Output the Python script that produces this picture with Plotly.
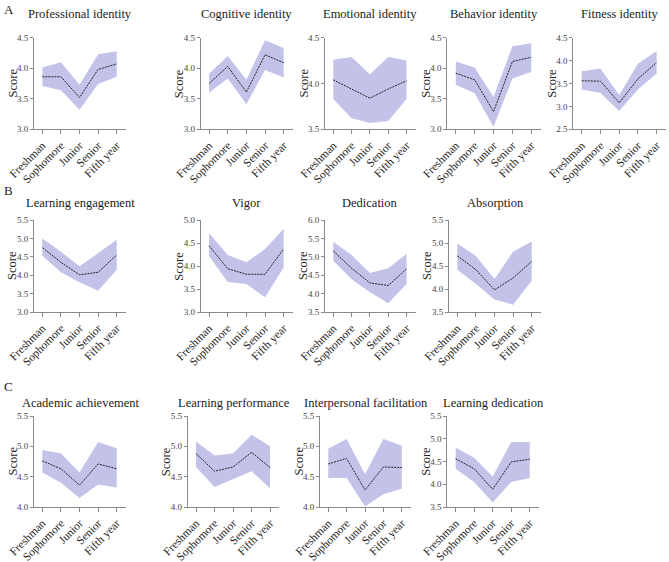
import plotly.graph_objects as go

W, H = 669, 562
grades = ["Freshman", "Sophomore", "Junior", "Senior", "Fifth year"]

# ---- data (mean, upper CI, lower CI) ----
prof_mean = [3.86, 3.86, 3.52, 3.98, 4.07]
prof_up = [4.01, 4.10, 3.73, 4.23, 4.28]
prof_lo = [3.71, 3.64, 3.32, 3.74, 3.86]

cog_mean = [3.75, 4.03, 3.61, 4.22, 4.09]
cog_up = [3.91, 4.20, 3.81, 4.46, 4.33]
cog_lo = [3.60, 3.83, 3.41, 3.97, 3.85]

emo_mean = [4.04, 3.94, 3.84, 3.94, 4.03]
emo_up = [4.26, 4.29, 4.10, 4.29, 4.25]
emo_lo = [3.83, 3.62, 3.57, 3.59, 3.83]

beh_mean = [3.92, 3.81, 3.29, 4.11, 4.18]
beh_up = [4.11, 4.01, 3.53, 4.36, 4.41]
beh_lo = [3.73, 3.59, 3.04, 3.83, 3.94]

fit_mean = [3.56, 3.55, 3.08, 3.60, 3.96]
fit_up = [3.77, 3.83, 3.25, 3.93, 4.21]
fit_lo = [3.37, 3.29, 2.90, 3.37, 3.72]

le_mean = [4.75, 4.35, 4.01, 4.08, 4.55]
le_up = [5.00, 4.64, 4.24, 4.60, 4.96]
le_lo = [4.53, 4.08, 3.81, 3.58, 4.15]

vig_mean = [4.44, 3.94, 3.82, 3.82, 4.37]
vig_up = [4.71, 4.24, 4.08, 4.37, 4.81]
vig_lo = [4.21, 3.65, 3.61, 3.32, 3.97]

ded_mean = [5.16, 4.69, 4.29, 4.22, 4.67]
ded_up = [5.41, 5.05, 4.56, 4.69, 5.08]
ded_lo = [4.89, 4.39, 4.04, 3.74, 4.26]

abs_mean = [4.72, 4.42, 3.98, 4.24, 4.60]
abs_up = [4.99, 4.72, 4.22, 4.81, 5.03]
abs_lo = [4.42, 4.11, 3.77, 3.66, 4.18]

aa_mean = [4.76, 4.63, 4.36, 4.71, 4.63]
aa_up = [4.94, 4.88, 4.57, 5.07, 4.97]
aa_lo = [4.57, 4.40, 4.15, 4.37, 4.32]

lp_mean = [4.88, 4.59, 4.66, 4.90, 4.65]
lp_up = [5.08, 4.85, 4.88, 5.19, 5.00]
lp_lo = [4.66, 4.33, 4.46, 4.59, 4.31]

ip_mean = [4.71, 4.80, 4.28, 4.66, 4.65]
ip_up = [4.96, 5.12, 4.54, 5.12, 5.01]
ip_lo = [4.48, 4.48, 4.01, 4.21, 4.30]

ld_mean = [4.56, 4.34, 3.89, 4.49, 4.55]
ld_up = [4.80, 4.58, 4.17, 4.93, 4.93]
ld_lo = [4.34, 4.05, 3.60, 4.05, 4.14]

titles = ["Professional identity", "Cognitive identity", "Emotional identity",
          "Behavior identity", "Fitness identity",
          "Learning engagement", "Vigor", "Dedication", "Absorption",
          "Academic achievement", "Learning performance",
          "Interpersonal facilitation", "Learning dedication"]
y_ranges = [(3.0, 4.5), (3.0, 4.5), (3.5, 4.5), (3.0, 4.5), (2.5, 4.5),
            (3.0, 5.5), (3.0, 5.0), (3.5, 6.0), (3.5, 5.5),
            (4.0, 5.5), (4.0, 5.5), (4.0, 5.5), (3.5, 5.5)]
series = [(prof_mean, prof_up, prof_lo), (cog_mean, cog_up, cog_lo),
          (emo_mean, emo_up, emo_lo), (beh_mean, beh_up, beh_lo),
          (fit_mean, fit_up, fit_lo),
          (le_mean, le_up, le_lo), (vig_mean, vig_up, vig_lo),
          (ded_mean, ded_up, ded_lo), (abs_mean, abs_up, abs_lo),
          (aa_mean, aa_up, aa_lo), (lp_mean, lp_up, lp_lo),
          (ip_mean, ip_up, ip_lo), (ld_mean, ld_up, ld_lo)]

# ---- layout (pixel boxes) ----
x_boxes = [(34, 126), (200.7, 293), (325, 415.7), (447.3, 540.7), (573.3, 666),
           (34, 126), (200.7, 293), (325, 415.7), (449, 541),
           (34, 126), (187.7, 279.3), (320, 411), (447.3, 539)]
row_y = {"A": (37.7, 129.3), "B": (220, 312), "C": (416, 507)}
rows = ["A"] * 5 + ["B"] * 4 + ["C"] * 4
title_y = {"A": 14, "B": 203, "C": 403}
letter_y = {"A": 9, "B": 191, "C": 387}

FILL = "rgba(192,192,232,0.95)"
SERIF = "Liberation Serif, Times New Roman, Times, serif"
AXC = "#8a8a8a"

fig = go.Figure()
layout = dict(width=W, height=H, margin=dict(l=0, r=0, t=0, b=0, pad=0),
              autosize=False,
              paper_bgcolor="white", plot_bgcolor="white", showlegend=False,
              font=dict(family=SERIF))
annotations = []

for i, (m, up, lo) in enumerate(series):
    k = i + 1
    xa = "x" if k == 1 else f"x{k}"
    ya = "y" if k == 1 else f"y{k}"
    fig.add_trace(go.Scatter(x=grades + grades[::-1], y=up + lo[::-1],
                             fill="toself", fillcolor=FILL, mode="lines",
                             line=dict(width=0), xaxis=xa, yaxis=ya,
                             hoverinfo="skip"))
    fig.add_trace(go.Scatter(x=grades, y=m, mode="lines",
                             line=dict(color="#222", width=1, dash="2px,1px"),
                             xaxis=xa, yaxis=ya))
    x0, x1 = x_boxes[i]
    y0, y1 = row_y[rows[i]]
    xd = [x0 / W, x1 / W]
    yd = [1 - y1 / H, 1 - y0 / H]
    xkey = "xaxis" if k == 1 else f"xaxis{k}"
    ykey = "yaxis" if k == 1 else f"yaxis{k}"
    layout[xkey] = dict(domain=xd, anchor=ya, type="category",
                        categoryorder="array", categoryarray=grades,
                        range=[-0.45, 4.5], showgrid=False, zeroline=False,
                        automargin=False,
                        showline=True, linecolor=AXC, linewidth=1,
                        ticks="outside", ticklen=4, tickcolor=AXC,
                        tickangle=-45,
                        tickfont=dict(family=SERIF, size=11.5, color="#222"))
    lo_r, hi_r = y_ranges[i]
    layout[ykey] = dict(domain=yd, anchor=xa, range=[lo_r, hi_r],
                        dtick=0.5, tick0=lo_r, tickformat=".1f",
                        showgrid=False, zeroline=False, automargin=False,
                        showline=True, linecolor=AXC, linewidth=1,
                        ticks="outside", ticklen=3, tickcolor=AXC,
                        tickfont=dict(family=SERIF, size=9, color="#444"))
    annotations.append(dict(text=titles[i], xref="paper", yref="paper",
                            x=(x0 + x1) / 2 / W, y=1 - title_y[rows[i]] / H,
                            showarrow=False, xanchor="center", yanchor="middle",
                            font=dict(family=SERIF, size=12.5, color="#222")))
    annotations.append(dict(text="Score", xref="paper", yref="paper",
                            x=(x0 - 22) / W, y=1 - (y0 + y1) / 2 / H,
                            showarrow=False, textangle=-90,
                            xanchor="center", yanchor="middle",
                            font=dict(family=SERIF, size=12.5, color="#222")))

for letter in ["A", "B", "C"]:
    annotations.append(dict(text=letter, xref="paper", yref="paper",
                            x=2 / W, y=1 - letter_y[letter] / H,
                            showarrow=False, xanchor="left", yanchor="middle",
                            font=dict(family=SERIF, size=13, color="#222")))

layout["annotations"] = annotations
fig.update_layout(**layout)
fig.write_html("out.html")
